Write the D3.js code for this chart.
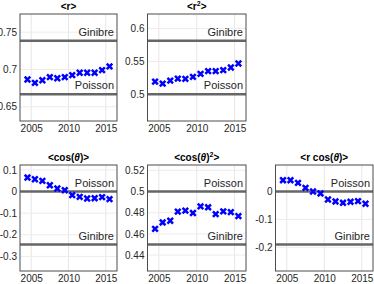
<!DOCTYPE html>
<html>
<head>
<meta charset="utf-8">
<script src="https://cdn.jsdelivr.net/npm/d3@7"></script>
<style>
  body { margin: 0; background: #fff; }
  svg { display: block; font-family: "Liberation Sans", Arial, sans-serif; }
</style>
</head>
<body>
<div id="chart"></div>
<script>
// data
const years = [2004.5, 2005.5, 2006.5, 2007.5, 2008.5, 2009.5, 2010.5, 2011.5, 2012.5, 2013.5, 2014.5, 2015.5];
const xTicks = [2005, 2010, 2015];

const rMean     = [0.6865, 0.6819, 0.6855, 0.6896, 0.6882, 0.6896, 0.6923, 0.6955, 0.6955, 0.6955, 0.6991, 0.7041];
const r2Mean    = [0.5192, 0.5162, 0.5208, 0.5238, 0.5234, 0.5265, 0.5311, 0.5352, 0.5352, 0.5367, 0.5408, 0.5469];
const cosMean   = [0.0645, 0.0567, 0.049, 0.029, 0.0138, 0.006, -0.017, -0.0249, -0.0323, -0.031, -0.026, -0.0355];
const cos2Mean  = [0.4648, 0.4708, 0.4724, 0.481, 0.4819, 0.4797, 0.486, 0.4851, 0.4787, 0.4813, 0.4806, 0.4768];
const rcosMean  = [0.0405, 0.0405, 0.031, 0.013, 0.0, -0.007, -0.0286, -0.0357, -0.0405, -0.0369, -0.0345, -0.044];

// reference values [Ginibre, Poisson]
const refR    = [0.7385, 0.6667];
const refR2   = [0.5815, 0.5];
const refCos  = [-0.245, 0];
const refCos2 = [0.45, 0.5];
const refRcos = [-0.19, 0];

const ticksR    = [0.65, 0.7, 0.75];
const ticksR2   = [0.5, 0.55, 0.6];
const ticksCos  = [-0.3, -0.2, -0.1, 0, 0.1];
const ticksCos2 = [0.44, 0.46, 0.48, 0.5, 0.52];
const ticksRcos = [-0.2, -0.1, 0];

var W = 374, H = 284;
var svg = d3.select("#chart").append("svg").attr("width", W).attr("height", H);

var cols = [[20, 117], [147.5, 246], [275.5, 373]];
var rows = [[14, 121], [165, 271]];

var panels = [
  { title: "r", col: 0, row: 0, vals: rMean, ref: refR, ticks: ticksR },
  { title: "r2", col: 1, row: 0, vals: r2Mean, ref: refR2, ticks: ticksR2 },
  { title: "cos", col: 0, row: 1, vals: cosMean, ref: refCos, ticks: ticksCos },
  { title: "cos2", col: 1, row: 1, vals: cos2Mean, ref: refCos2, ticks: ticksCos2 },
  { title: "rcos", col: 2, row: 1, vals: rcosMean, ref: refRcos, ticks: ticksRcos }
];

function fmt(v) { return String(+v.toFixed(3)); }

function drawTitle(g, key, cx, y) {
  var t = g.append("text").attr("x", cx).attr("y", y).attr("text-anchor", "middle")
    .attr("font-size", 10).attr("font-weight", "bold").attr("fill", "#000");
  if (key == "r") t.text("<r>");
  if (key == "r2") {
    t.append("tspan").text("<r");
    t.append("tspan").attr("dy", -4).attr("font-size", 7).text("2");
    t.append("tspan").attr("dy", 4).text(">");
  }
  if (key == "cos" || key == "cos2" || key == "rcos") {
    t.append("tspan").text(key == "rcos" ? "<r cos(" : "<cos(");
    t.append("tspan").attr("font-style", "italic").text("θ");
    t.append("tspan").text(")");
    if (key == "cos2") {
      t.append("tspan").attr("dy", -4).attr("font-size", 7).text("2");
      t.append("tspan").attr("dy", 4).text(">");
    } else {
      t.append("tspan").text(">");
    }
  }
}

panels.forEach(function (p) {
  var x0 = cols[p.col][0], x1 = cols[p.col][1];
  var y0 = rows[p.row][0], y1 = rows[p.row][1];
  var lo = d3.min(p.ref), hi = d3.max(p.ref), d = hi - lo;

  var x = d3.scaleLinear().domain([2003.5, 2016.5]).range([x0, x1]);
  var y = d3.scaleLinear().domain([lo - d / 2, hi + d / 2]).range([y1, y0]);

  var g = svg.append("g");

  // grid
  g.selectAll(".vg").data(xTicks).enter().append("line")
    .attr("x1", d => x(d)).attr("x2", d => x(d)).attr("y1", y0).attr("y2", y1)
    .attr("stroke", "#e6e6e6").attr("stroke-width", 1);
  g.selectAll(".hg").data(p.ticks).enter().append("line")
    .attr("x1", x0).attr("x2", x1).attr("y1", d => y(d)).attr("y2", d => y(d))
    .attr("stroke", "#ececec").attr("stroke-width", 1);

  // axes
  var ax = d3.axisBottom(x).tickValues(xTicks).tickSize(0).tickPadding(4).tickFormat(d3.format("d"));
  var gx = g.append("g").attr("transform", "translate(0," + y1 + ")").call(ax);
  var ay = d3.axisLeft(y).tickValues(p.ticks).tickSize(0).tickPadding(3).tickFormat(fmt);
  var gy = g.append("g").attr("transform", "translate(" + x0 + ",0)").call(ay);
  [gx, gy].forEach(function (a) {
    a.select(".domain").remove();
    a.selectAll("text").attr("font-size", 10).attr("fill", "#262626")
      .attr("font-family", "Liberation Sans, Arial, sans-serif");
  });

  // reference lines
  var names = ["Ginibre", "Poisson"];
  p.ref.forEach(function (v, i) {
    g.append("line").attr("x1", x0).attr("x2", x1).attr("y1", y(v)).attr("y2", y(v))
      .attr("stroke", "#666").attr("stroke-width", 2.5);
    g.append("text").attr("x", x1 - 3).attr("y", y(v) - 5).attr("text-anchor", "end")
      .attr("font-size", 11).attr("fill", "#262626").text(names[i]);
  });

  // markers
  var s = 2.8;
  g.selectAll(".pt").data(years.map((yr, i) => [yr, p.vals[i]])).enter().append("path")
    .attr("d", function (d) {
      var cx = x(d[0]), cy = y(d[1]);
      return "M" + (cx - s) + "," + (cy - s) + "L" + (cx + s) + "," + (cy + s) +
        "M" + (cx - s) + "," + (cy + s) + "L" + (cx + s) + "," + (cy - s);
    })
    .attr("stroke", "#0000ff").attr("stroke-width", 2.5).attr("fill", "none");

  // box
  g.append("rect").attr("x", x0).attr("y", y0).attr("width", x1 - x0).attr("height", y1 - y0)
    .attr("fill", "none").attr("stroke", "#4d4d4d").attr("stroke-width", 1);

  drawTitle(g, p.title, (x0 + x1) / 2, y0 - 4);
});
</script>
</body>
</html>
